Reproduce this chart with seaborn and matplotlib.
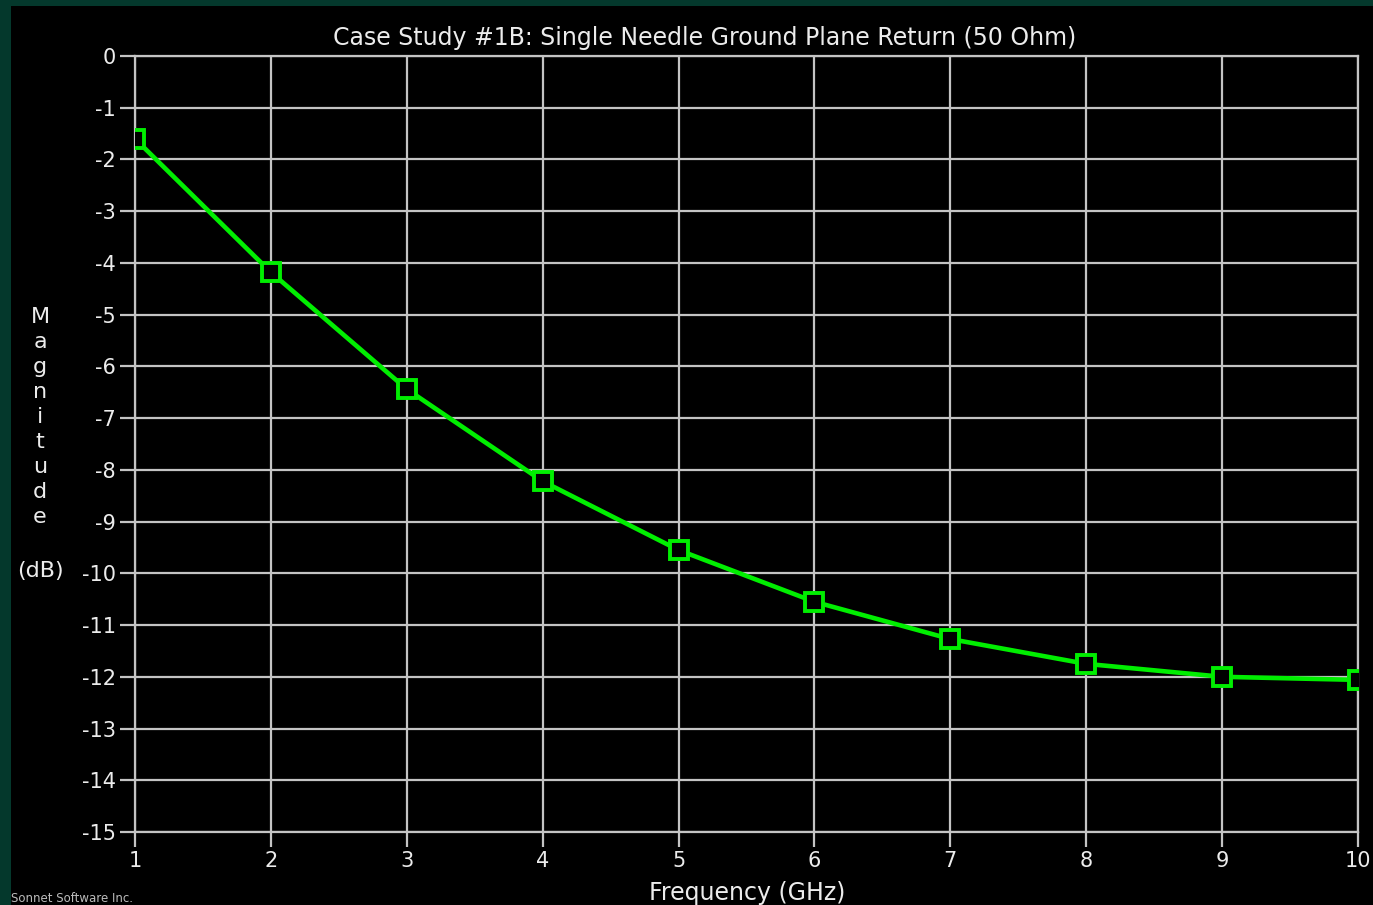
import matplotlib
matplotlib.use("Agg")
import matplotlib.pyplot as plt
import seaborn as sns
import pandas as pd
from matplotlib.patches import Rectangle

frequency_ghz = [1, 2, 3, 4, 5, 6, 7, 8, 9, 10]
magnitude_db = [-1.60, -4.18, -6.44, -8.22, -9.55, -10.55, -11.27, -11.75, -12.00, -12.06]
x_ticks = [1, 2, 3, 4, 5, 6, 7, 8, 9, 10]
y_ticks = [0, -1, -2, -3, -4, -5, -6, -7, -8, -9, -10, -11, -12, -13, -14, -15]

sns.set_theme(style="dark")
plt.rcParams['font.family'] = ['DejaVu Sans']

df = pd.DataFrame({"Frequency (GHz)": frequency_ghz, "Magnitude (dB)": magnitude_db})

W, H = 1373, 905
fig = plt.figure(figsize=(W / 100, H / 100), dpi=100)
fig.patch.set_facecolor('#04382c')
bg = Rectangle((11 / W, 0), 1, 1 - 6 / H, transform=fig.transFigure,
               facecolor='black', edgecolor='none')
bg.set_zorder(-10)
fig.add_artist(bg)

ax = fig.add_axes([135 / W, 1 - 832 / H, (1358 - 135) / W, (832 - 56) / H])
ax.set_zorder(5)
ax.set_facecolor('black')

grid_col = '#c4c4c4'
sns.lineplot(data=df, x="Frequency (GHz)", y="Magnitude (dB)", ax=ax, color='#00ee00',
             linewidth=3.3, marker='s', markersize=13.5, markerfacecolor='black',
             markeredgecolor='#00ee00', markeredgewidth=2.8, zorder=5)

ax.set_xlim(1, 10)
ax.set_ylim(-15, 0)
ax.set_xticks(x_ticks)
ax.set_yticks(y_ticks)
ax.set_xticklabels([str(v) for v in x_ticks])
ax.set_yticklabels([str(v) for v in y_ticks])
ax.grid(True, color=grid_col, linewidth=1.6)
for s in ax.spines.values():
    s.set_visible(True)
    s.set_color(grid_col)
    s.set_linewidth(1.6)
ax.tick_params(axis='both', colors=grid_col, labelcolor='#ececec', length=11, width=1.6,
               labelsize=15, pad=3, bottom=True, left=True)
ax.set_xlabel("")
ax.set_ylabel("")

txt = '#ececec'
fig.text(705 / W, 1 - 38 / H, "Case Study #1B: Single Needle Ground Plane Return (50 Ohm)",
         ha='center', va='center', color=txt, fontsize=17)
fig.text(747 / W, 1 - 893 / H, "Frequency (GHz)", ha='center', va='center',
         color=txt, fontsize=17)
fig.text(40 / W, 1 - 417 / H, "M\na\ng\nn\ni\nt\nu\nd\ne", ha='center', va='center',
         color=txt, fontsize=16, linespacing=1.32)
fig.text(40 / W, 1 - 571 / H, "(dB)", ha='center', va='center', color=txt, fontsize=16)
fig.text(11 / W, 1 - 898 / H, "Sonnet Software Inc.", ha='left', va='center',
         color='#bbbbbb', fontsize=8.5)

fig.savefig("out.png", dpi=100, facecolor=fig.get_facecolor())
